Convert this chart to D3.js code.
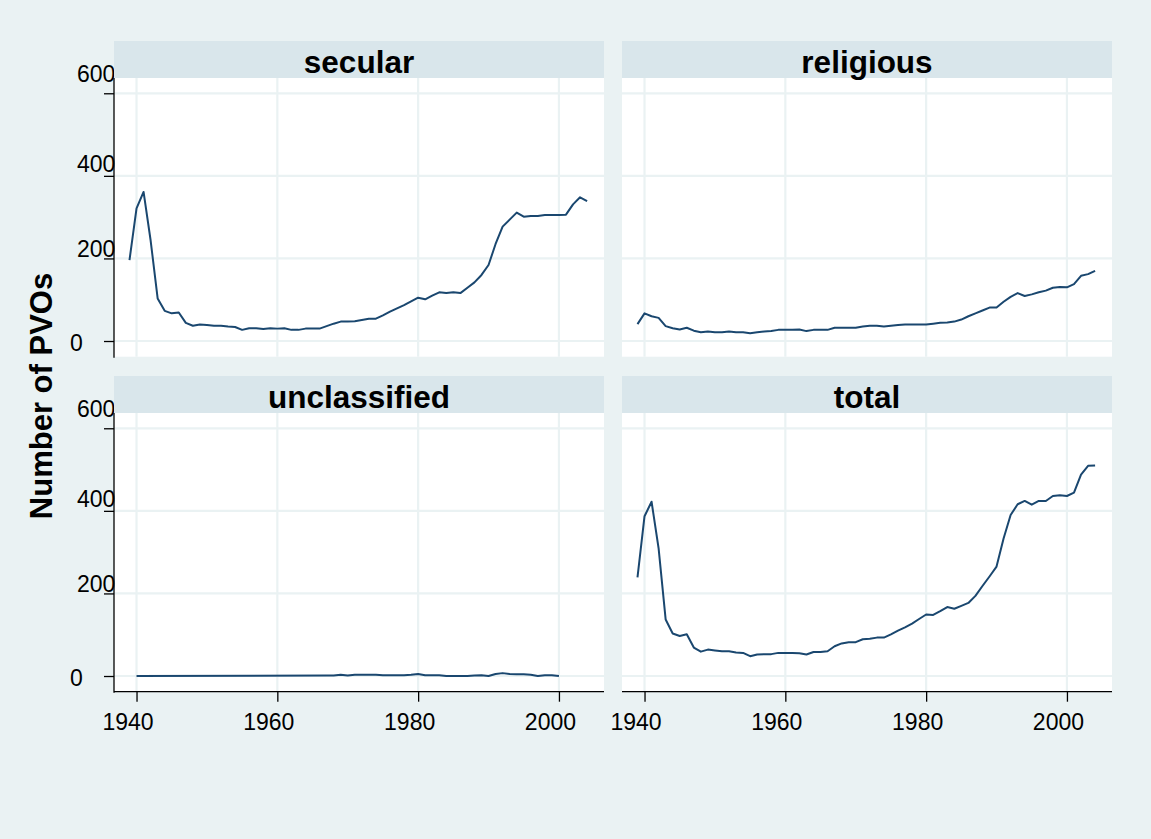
<!DOCTYPE html>
<html>
<head>
<meta charset="utf-8">
<script src="https://cdn.jsdelivr.net/npm/d3@7"></script>
<style>
  html, body { margin: 0; padding: 0; background: #EAF2F3; }
  svg { display: block; }
  text { font-family: "Liberation Sans", Arial, Helvetica, sans-serif; }
</style>
</head>
<body>
<svg id="chart" width="1151" height="839"></svg>
<script>
// ---------------- data ----------------
const panelNames = ["secular", "religious", "unclassified", "total"];

const secularYears = d3.range(1939, 2005);
const secularValues = [
  196, 321, 361, 244, 103, 73, 67, 69, 44, 37, 40,
  39, 37, 37, 35, 34, 27, 31, 31, 29, 31,
  30, 31, 27, 27, 30, 30, 30, 36, 42, 47,
  47, 48, 51, 54, 54, 62, 71, 79, 87, 96,
  105, 101, 110, 118, 116, 118, 116, 129, 142, 160,
  184, 235, 277, 294, 311, 301, 303, 303, 305, 305,
  305, 306, 331, 348, 339
];

const religiousYears = d3.range(1939, 2005);
const religiousValues = [
  41, 67, 60, 56, 36, 31, 28, 32, 25, 21, 23,
  21, 21, 23, 21, 21, 19, 21, 23, 24, 27,
  27, 27, 28, 24, 27, 27, 27, 32, 32, 32,
  32, 35, 37, 37, 35, 37, 39, 40, 40, 40,
  40, 42, 44, 45, 47, 52, 60, 67, 74, 81,
  81, 95, 107, 116, 109, 113, 118, 122, 129, 131,
  130, 138, 158, 162, 170
];

const unclassifiedYears = [1940].concat(d3.range(1967, 2001));
const unclassifiedValues = [
  0,
  1, 1, 3, 1, 3, 3, 3, 3, 2, 2, 2, 2, 3,   // 1967-1979
  5, 2, 2, 2, 0, 0, 0, 0, 1, 2,            // 1980-1989
  0, 5, 7, 5, 4, 4, 3, 0, 2, 2,            // 1990-1999
  0                                        // 2000
];

const totalYears = d3.range(1939, 2005);
const totalValues = [
  239, 387, 422, 309, 137, 103, 97, 101, 69, 59, 64,
  62, 60, 60, 57, 56, 48, 52, 53, 53, 56,
  56, 56, 55, 52, 58, 58, 60, 72, 79, 82,
  82, 89, 90, 93, 93, 101, 110, 118, 127, 138,
  149, 148, 157, 167, 163, 170, 177, 194, 218, 241,
  265, 333, 390, 416, 424, 415, 424, 424, 436, 438,
  436, 444, 488, 509, 510
];

const xTicks = [1940, 1960, 1980, 2000];
const yTicks = [0, 200, 400, 600];
const yTitle = "Number of PVOs";

const seriesYears = [secularYears, religiousYears, unclassifiedYears, totalYears];
const seriesValues = [secularValues, religiousValues, unclassifiedValues, totalValues];

// ---------------- layout / style ----------------
const colX = [114, 622];
const rowStripTop = [41, 376];
const panelW = 490;
const stripH = 37;
const plotH = 278.7;
const xDomain = [1936.8, 2006.4];
const yDomain = [-38, 637];

const BG = "#EAF2F3", STRIP = "#D9E6EB", GRID = "#EAF2F3", LINE = "#1A476F";
// nudges of the (unrotated) y labels as they appear in the reference
const yLabelNudge = { 0: 2, 200: -10, 400: -12, 600: -20 };

const svg = d3.select("#chart");
svg.append("rect").attr("width", 1151).attr("height", 839).attr("fill", BG);

const panels = panelNames.map((name, i) => {
  const col = i % 2, row = Math.floor(i / 2);
  const x0 = colX[col];
  const top = rowStripTop[row] + stripH;
  const x = d3.scaleLinear().domain(xDomain).range([x0, x0 + panelW]);
  const y = d3.scaleLinear().domain(yDomain).range([top + plotH, top]);
  return { name, i, col, row, x0, top, x, y };
});

// plot backgrounds + grid
panels.forEach(p => {
  const g = svg.append("g");
  g.append("rect").attr("x", p.x0).attr("y", p.top).attr("width", panelW).attr("height", plotH).attr("fill", "#fff");
  g.selectAll(".hg").data(yTicks).join("line")
    .attr("x1", p.x0).attr("x2", p.x0 + panelW)
    .attr("y1", d => p.y(d)).attr("y2", d => p.y(d))
    .attr("stroke", GRID).attr("stroke-width", 2.2);
  g.selectAll(".vg").data(xTicks).join("line")
    .attr("y1", p.top).attr("y2", p.top + plotH)
    .attr("x1", d => p.x(d)).attr("x2", d => p.x(d))
    .attr("stroke", GRID).attr("stroke-width", 2.2);
});

// y axis labels (left column), drawn before strips so strips overlap "600"
panels.filter(p => p.col === 0).forEach(p => {
  const g = svg.append("g");
  g.selectAll("text").data(yTicks).join("text")
    .attr("x", d => String(d).length === 1 ? 70 : 77)
    .attr("y", d => p.y(d) + yLabelNudge[d])
    .attr("dy", "0.36em")
    .attr("font-size", 23)
    .attr("fill", "#000")
    .text(d => d);
});

// data lines
panels.forEach(p => {
  const yrs = seriesYears[p.i], vals = seriesValues[p.i];
  const pts = yrs.map((yr, k) => [yr, vals[k]]);
  svg.append("path")
    .datum(pts)
    .attr("fill", "none")
    .attr("stroke", LINE)
    .attr("stroke-width", 2)
    .attr("stroke-linejoin", "round")
    .attr("d", d3.line().x(d => p.x(d[0])).y(d => p.y(d[1])));
});

// axes
panels.forEach(p => {
  if (p.col === 0) {
    const ax = svg.append("g").attr("transform", `translate(${p.x0},0)`)
      .call(d3.axisLeft(p.y).tickValues(yTicks).tickSize(10).tickFormat(""));
    ax.select(".domain").remove();
    ax.selectAll(".tick line").attr("stroke", "#000").attr("stroke-width", 1.3);
    svg.append("line").attr("x1", p.x0).attr("x2", p.x0)
      .attr("y1", p.top).attr("y2", p.top + plotH + 1)
      .attr("stroke", "#000").attr("stroke-width", 1.3);
  }
  if (p.row === 1) {
    const bottom = p.top + plotH;
    const ax = svg.append("g").attr("transform", `translate(0,${bottom})`)
      .call(d3.axisBottom(p.x).tickValues(xTicks).tickSize(10).tickFormat(""));
    ax.select(".domain").remove();
    ax.selectAll(".tick line").attr("stroke", "#000").attr("stroke-width", 1.3);
    svg.append("line").attr("x1", p.x0).attr("x2", p.x0 + panelW)
      .attr("y1", bottom).attr("y2", bottom)
      .attr("stroke", "#000").attr("stroke-width", 1.3);
    svg.append("g").selectAll("text").data(xTicks).join("text")
      .attr("x", d => p.x(d) - 8.5)
      .attr("y", bottom + 38.5)
      .attr("text-anchor", "middle")
      .attr("font-size", 23)
      .attr("fill", "#000")
      .text(d => d);
  }
});

// strips
panels.forEach(p => {
  const st = rowStripTop[p.row];
  svg.append("rect").attr("x", p.x0).attr("y", st).attr("width", panelW).attr("height", stripH).attr("fill", STRIP);
  svg.append("text")
    .attr("x", p.x0 + panelW / 2).attr("y", st + 31.5)
    .attr("text-anchor", "middle")
    .attr("font-size", 31.5).attr("font-weight", "bold").attr("fill", "#000")
    .text(p.name);
});

// y title
svg.append("text")
  .attr("transform", "translate(52,396) rotate(-90)")
  .attr("text-anchor", "middle")
  .attr("font-size", 31).attr("font-weight", "bold").attr("fill", "#000")
  .text(yTitle);
</script>
</body>
</html>
